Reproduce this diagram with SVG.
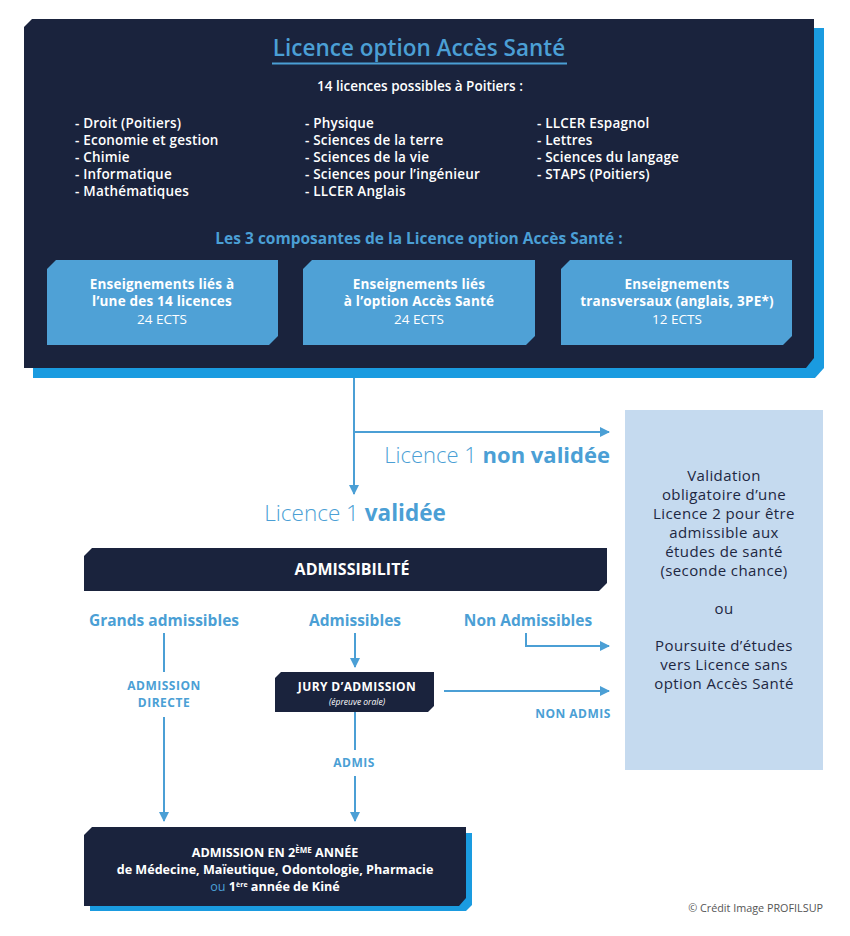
<svg xmlns="http://www.w3.org/2000/svg" width="850" height="936" viewBox="0 0 850 936">
<defs>
<style>
text{font-family:"Open Sans","Noto Sans","DejaVu Sans",sans-serif}
.w{fill:#ffffff}
.list{font-size:13.5px;font-weight:600;fill:#fff;letter-spacing:0.2px}
.comp{font-size:13.5px;font-weight:700;fill:#fff;text-anchor:middle;letter-spacing:0.2px}
.compn{font-size:13.5px;font-weight:400;fill:#fff;text-anchor:middle}
.side{font-size:15px;font-weight:500;fill:#1d2742;text-anchor:middle;letter-spacing:0.4px}
.lab{font-size:15.5px;font-weight:700;fill:#4b9fd5;text-anchor:middle}
.sm{font-size:12px;font-weight:700;fill:#4b9fd5;text-anchor:middle;letter-spacing:0.5px}
.con{stroke:#4b9fd5;stroke-width:2;fill:none}
</style>
<marker id="ah" viewBox="0 0 10 10" refX="9" refY="5" markerWidth="5" markerHeight="5" orient="auto" markerUnits="strokeWidth">
<path d="M0,0 L10,5 L0,10 z" fill="#4b9fd5"/>
</marker>
</defs>

<g id="main-box">
<polygon points="41,28 824,28 824,368 815,378 33,378 33,36" fill="#1a9be0"/>
<polygon points="32,19 814,19 814,358 806,368 24,368 24,27" fill="#1a233d"/>
<text x="419" y="56" font-size="22.5" font-weight="600" fill="#4b9fd5" text-anchor="middle">Licence option Accès Santé</text>
<line x1="272" y1="63.5" x2="567" y2="63.5" stroke="#4b9fd5" stroke-width="2"/>
<text x="420" y="91" font-size="13.5" font-weight="600" class="w" text-anchor="middle">14 licences possibles à Poitiers :</text>
<text class="list" x="75" y="128">- Droit (Poitiers)</text>
<text class="list" x="75" y="145">- Economie et gestion</text>
<text class="list" x="75" y="162">- Chimie</text>
<text class="list" x="75" y="179">- Informatique</text>
<text class="list" x="75" y="196">- Mathématiques</text>
<text class="list" x="305" y="128">- Physique</text>
<text class="list" x="305" y="145">- Sciences de la terre</text>
<text class="list" x="305" y="162">- Sciences de la vie</text>
<text class="list" x="305" y="179">- Sciences pour l’ingénieur</text>
<text class="list" x="305" y="196">- LLCER Anglais</text>
<text class="list" x="537" y="128">- LLCER Espagnol</text>
<text class="list" x="537" y="145">- Lettres</text>
<text class="list" x="537" y="162">- Sciences du langage</text>
<text class="list" x="537" y="179">- STAPS (Poitiers)</text>
<text x="419" y="244" font-size="15.5" font-weight="700" fill="#4b9fd5" text-anchor="middle">Les 3 composantes de la Licence option Accès Santé :</text>
</g>

<g id="comp1">
<polygon points="56,260 278,260 278,336 269,345 47,345 47,269" fill="#4fa1d6"/>
<text class="comp" x="162" y="289">Enseignements liés à</text>
<text class="comp" x="162" y="306">l’une des 14 licences</text>
<text class="compn" x="162" y="324">24 ECTS</text>
</g>
<g id="comp2">
<polygon points="312,260 535,260 535,336 526,345 303,345 303,269" fill="#4fa1d6"/>
<text class="comp" x="419" y="289">Enseignements liés</text>
<text class="comp" x="419" y="306">à l’option Accès Santé</text>
<text class="compn" x="419" y="324">24 ECTS</text>
</g>
<g id="comp3">
<polygon points="570,260 792,260 792,336 783,345 561,345 561,269" fill="#4fa1d6"/>
<text class="comp" x="677" y="289">Enseignements</text>
<text class="comp" x="677" y="306">transversaux (anglais, 3PE*)</text>
<text class="compn" x="677" y="324">12 ECTS</text>
</g>

<g id="side-box">
<rect x="625" y="410" width="198" height="360" fill="#c5daef"/>
<text class="side" x="724" y="481">Validation</text>
<text class="side" x="724" y="500">obligatoire d’une</text>
<text class="side" x="724" y="519">Licence 2 pour être</text>
<text class="side" x="724" y="538">admissible aux</text>
<text class="side" x="724" y="557">études de santé</text>
<text class="side" x="724" y="576">(seconde chance)</text>
<text class="side" x="724" y="614" font-weight="700">ou</text>
<text class="side" x="724" y="651">Poursuite d’études</text>
<text class="side" x="724" y="670">vers Licence sans</text>
<text class="side" x="724" y="689">option Accès Santé</text>
</g>

<g id="labels-l1">
<text x="610" y="463" font-size="22" fill="#4b9fd5" text-anchor="end"><tspan font-weight="300">Licence 1 </tspan><tspan font-weight="700">non validée</tspan></text>
<text x="355" y="521" font-size="22.5" fill="#4b9fd5" text-anchor="middle"><tspan font-weight="300">Licence 1 </tspan><tspan font-weight="700">validée</tspan></text>
</g>

<g id="admissibilite">
<polygon points="92,548 607,548 607,583 599,591 84,591 84,556" fill="#1a233d"/>
<text x="352" y="575" font-size="16" font-weight="700" class="w" text-anchor="middle">ADMISSIBILITÉ</text>
</g>

<g id="branch-labels">
<text class="lab" x="164" y="626">Grands admissibles</text>
<text class="lab" x="355" y="626">Admissibles</text>
<text class="lab" x="528" y="626">Non Admissibles</text>
<text class="sm" x="164" y="690">ADMISSION</text>
<text class="sm" x="164" y="707">DIRECTE</text>
<text class="sm" x="573" y="718">NON ADMIS</text>
<text class="sm" x="354" y="767">ADMIS</text>
</g>

<g id="jury">
<polygon points="281,672 434,672 434,706 428,712 275,712 275,678" fill="#1a233d"/>
<text x="357" y="691" font-size="12" font-weight="700" class="w" text-anchor="middle" letter-spacing="0.4">JURY D’ADMISSION</text>
<text x="357" y="705" font-size="8.5" font-style="italic" class="w" text-anchor="middle">(épreuve orale)</text>
</g>

<g id="admission">
<polygon points="98,833 472,833 472,905 466,911 90,911 90,840" fill="#1a9be0"/>
<polygon points="92,827 466,827 466,898 459,906 84,906 84,835" fill="#1a233d"/>
<text x="275" y="857" font-size="12.6" font-weight="700" class="w" text-anchor="middle">ADMISSION EN 2<tspan font-size="8" dy="-4">ÈME</tspan><tspan dy="4"> ANNÉE</tspan></text>
<text x="275" y="874" font-size="12.6" font-weight="700" class="w" text-anchor="middle">de Médecine, Maïeutique, Odontologie, Pharmacie</text>
<text x="275" y="891" font-size="12.6" font-weight="700" class="w" text-anchor="middle"><tspan fill="#4b9fd5" font-weight="500">ou</tspan> 1<tspan font-size="7" dy="-4">ère</tspan><tspan dy="4"> année de Kiné</tspan></text>
</g>

<g id="connectors">
<path class="con" d="M354,378 V494" marker-end="url(#ah)"/>
<path class="con" d="M354,432 H609" marker-end="url(#ah)"/>
<path class="con" d="M164,633 V672"/>
<path class="con" d="M164,717 V821" marker-end="url(#ah)"/>
<path class="con" d="M355,633 V667" marker-end="url(#ah)"/>
<path class="con" d="M526,633 V646 H609" marker-end="url(#ah)"/>
<path class="con" d="M444,691 H609" marker-end="url(#ah)"/>
<path class="con" d="M355,712 V750"/>
<path class="con" d="M355,776 V821" marker-end="url(#ah)"/>
</g>

<text x="823" y="912" font-size="10.8" fill="#555555" text-anchor="end">© Crédit Image PROFILSUP</text>
</svg>
